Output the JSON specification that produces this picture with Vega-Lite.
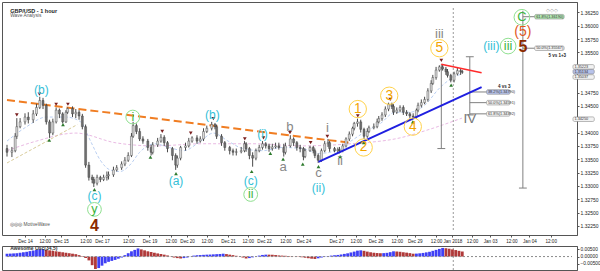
{
"$schema":"https://vega.github.io/schema/vega-lite/v6.json",
"background":"white",
"padding":{"left":1,"top":1,"right":0,"bottom":0},
"config":{"font":"Liberation Sans","view":{"stroke":"#555","strokeWidth":1},"axis":{"labelFont":"Liberation Sans","labelFontSize":5,"labelColor":"#222","tickColor":"#555","domainColor":"#555","grid":false,"tickSize":2,"labelPadding":1}},
"spacing":1,
"datasets":{
"candles":[
{"t":0,"o":1.3370,"h":1.3377,"l":1.3355,"c":1.3363},
{"t":3,"o":1.3363,"h":1.3373,"l":1.3354,"c":1.3366},
{"t":5,"o":1.3366,"h":1.3399,"l":1.3363,"c":1.3393},
{"t":6,"o":1.3393,"h":1.3427,"l":1.3388,"c":1.3411},
{"t":8,"o":1.3411,"h":1.3427,"l":1.3408,"c":1.3420},
{"t":11,"o":1.3420,"h":1.3436,"l":1.3415,"c":1.3429},
{"t":13,"o":1.3429,"h":1.3438,"l":1.3417,"c":1.3424},
{"t":16,"o":1.3424,"h":1.3442,"l":1.3418,"c":1.3435},
{"t":18,"o":1.3435,"h":1.3454,"l":1.3431,"c":1.3447},
{"t":20,"o":1.3447,"h":1.3467,"l":1.3444,"c":1.3460},
{"t":22,"o":1.3460,"h":1.3465,"l":1.3444,"c":1.3451},
{"t":24,"o":1.3451,"h":1.3454,"l":1.3415,"c":1.3420},
{"t":26,"o":1.3420,"h":1.3424,"l":1.3390,"c":1.3399},
{"t":28,"o":1.3399,"h":1.3426,"l":1.3395,"c":1.3420},
{"t":30,"o":1.3420,"h":1.3447,"l":1.3417,"c":1.3442},
{"t":32,"o":1.3442,"h":1.3445,"l":1.3427,"c":1.3435},
{"t":34,"o":1.3435,"h":1.3438,"l":1.3417,"c":1.3420},
{"t":36,"o":1.3420,"h":1.3442,"l":1.3418,"c":1.3438},
{"t":37,"o":1.3438,"h":1.3447,"l":1.3435,"c":1.3445},
{"t":40,"o":1.3445,"h":1.3449,"l":1.3429,"c":1.3435},
{"t":42,"o":1.3435,"h":1.3444,"l":1.3427,"c":1.3438},
{"t":44,"o":1.3438,"h":1.3442,"l":1.3424,"c":1.3431},
{"t":46,"o":1.3431,"h":1.3435,"l":1.3406,"c":1.3411},
{"t":48,"o":1.3411,"h":1.3415,"l":1.3334,"c":1.3339},
{"t":50,"o":1.3339,"h":1.3345,"l":1.3310,"c":1.3316},
{"t":52,"o":1.3316,"h":1.3321,"l":1.3305,"c":1.3312},
{"t":53,"o":1.3312,"h":1.3317,"l":1.3298,"c":1.3305},
{"t":55,"o":1.3305,"h":1.3321,"l":1.3301,"c":1.3316},
{"t":57,"o":1.3316,"h":1.3319,"l":1.3307,"c":1.3312},
{"t":59,"o":1.3312,"h":1.3321,"l":1.3309,"c":1.3316},
{"t":61,"o":1.3316,"h":1.3327,"l":1.3310,"c":1.3319},
{"t":62,"o":1.3319,"h":1.3327,"l":1.3312,"c":1.3321},
{"t":65,"o":1.3321,"h":1.3336,"l":1.3317,"c":1.3330},
{"t":67,"o":1.3330,"h":1.3339,"l":1.3327,"c":1.3334},
{"t":70,"o":1.3334,"h":1.3346,"l":1.3330,"c":1.3341},
{"t":72,"o":1.3341,"h":1.3354,"l":1.3337,"c":1.3348},
{"t":74,"o":1.3348,"h":1.3363,"l":1.3345,"c":1.3357},
{"t":76,"o":1.3357,"h":1.3399,"l":1.3354,"c":1.3393},
{"t":77,"o":1.3393,"h":1.3420,"l":1.3390,"c":1.3413},
{"t":79,"o":1.3413,"h":1.3417,"l":1.3397,"c":1.3402},
{"t":81,"o":1.3402,"h":1.3408,"l":1.3384,"c":1.3388},
{"t":83,"o":1.3388,"h":1.3393,"l":1.3379,"c":1.3384},
{"t":86,"o":1.3384,"h":1.3388,"l":1.3366,"c":1.3372},
{"t":88,"o":1.3372,"h":1.3377,"l":1.3357,"c":1.3363},
{"t":89,"o":1.3363,"h":1.3382,"l":1.3359,"c":1.3377},
{"t":92,"o":1.3377,"h":1.3390,"l":1.3373,"c":1.3384},
{"t":94,"o":1.3384,"h":1.3397,"l":1.3381,"c":1.3391},
{"t":96,"o":1.3391,"h":1.3395,"l":1.3375,"c":1.3381},
{"t":98,"o":1.3381,"h":1.3384,"l":1.3363,"c":1.3370},
{"t":101,"o":1.3370,"h":1.3373,"l":1.3348,"c":1.3357},
{"t":103,"o":1.3357,"h":1.3361,"l":1.3330,"c":1.3339},
{"t":104,"o":1.3339,"h":1.3357,"l":1.3334,"c":1.3352},
{"t":106,"o":1.3352,"h":1.3375,"l":1.3348,"c":1.3372},
{"t":109,"o":1.3372,"h":1.3381,"l":1.3366,"c":1.3375},
{"t":111,"o":1.3375,"h":1.3390,"l":1.3372,"c":1.3384},
{"t":113,"o":1.3384,"h":1.3393,"l":1.3381,"c":1.3390},
{"t":116,"o":1.3390,"h":1.3395,"l":1.3379,"c":1.3384},
{"t":118,"o":1.3384,"h":1.3393,"l":1.3381,"c":1.3388},
{"t":120,"o":1.3388,"h":1.3408,"l":1.3384,"c":1.3402},
{"t":122,"o":1.3402,"h":1.3413,"l":1.3399,"c":1.3408},
{"t":125,"o":1.3408,"h":1.3420,"l":1.3404,"c":1.3415},
{"t":127,"o":1.3415,"h":1.3418,"l":1.3406,"c":1.3411},
{"t":128,"o":1.3411,"h":1.3415,"l":1.3388,"c":1.3393},
{"t":131,"o":1.3393,"h":1.3397,"l":1.3375,"c":1.3381},
{"t":133,"o":1.3381,"h":1.3384,"l":1.3366,"c":1.3372},
{"t":136,"o":1.3372,"h":1.3375,"l":1.3359,"c":1.3366},
{"t":138,"o":1.3366,"h":1.3370,"l":1.3357,"c":1.3363},
{"t":140,"o":1.3363,"h":1.3370,"l":1.3357,"c":1.3364},
{"t":143,"o":1.3364,"h":1.3373,"l":1.3361,"c":1.3366},
{"t":145,"o":1.3366,"h":1.3384,"l":1.3363,"c":1.3379},
{"t":146,"o":1.3379,"h":1.3382,"l":1.3364,"c":1.3370},
{"t":148,"o":1.3370,"h":1.3373,"l":1.3350,"c":1.3357},
{"t":150,"o":1.3357,"h":1.3363,"l":1.3336,"c":1.3352},
{"t":152,"o":1.3352,"h":1.3370,"l":1.3348,"c":1.3366},
{"t":154,"o":1.3366,"h":1.3377,"l":1.3363,"c":1.3372},
{"t":156,"o":1.3372,"h":1.3384,"l":1.3368,"c":1.3379},
{"t":158,"o":1.3379,"h":1.3382,"l":1.3370,"c":1.3375},
{"t":160,"o":1.3375,"h":1.3379,"l":1.3364,"c":1.3370},
{"t":162,"o":1.3370,"h":1.3379,"l":1.3366,"c":1.3373},
{"t":164,"o":1.3373,"h":1.3381,"l":1.3370,"c":1.3375},
{"t":166,"o":1.3375,"h":1.3381,"l":1.3368,"c":1.3372},
{"t":169,"o":1.3372,"h":1.3379,"l":1.3355,"c":1.3363},
{"t":170,"o":1.3363,"h":1.3381,"l":1.3359,"c":1.3375},
{"t":173,"o":1.3375,"h":1.3395,"l":1.3372,"c":1.3388},
{"t":175,"o":1.3388,"h":1.3391,"l":1.3375,"c":1.3381},
{"t":177,"o":1.3381,"h":1.3384,"l":1.3366,"c":1.3372},
{"t":179,"o":1.3372,"h":1.3377,"l":1.3363,"c":1.3370},
{"t":181,"o":1.3370,"h":1.3373,"l":1.3348,"c":1.3355},
{"t":182,"o":1.3355,"h":1.3370,"l":1.3352,"c":1.3366},
{"t":185,"o":1.3366,"h":1.3375,"l":1.3364,"c":1.3372},
{"t":187,"o":1.3372,"h":1.3375,"l":1.3361,"c":1.3366},
{"t":188,"o":1.3366,"h":1.3370,"l":1.3352,"c":1.3357},
{"t":190,"o":1.3357,"h":1.3361,"l":1.3343,"c":1.3348},
{"t":192,"o":1.3348,"h":1.3370,"l":1.3345,"c":1.3366},
{"t":194,"o":1.3366,"h":1.3384,"l":1.3363,"c":1.3379},
{"t":196,"o":1.3379,"h":1.3388,"l":1.3373,"c":1.3381},
{"t":197,"o":1.3381,"h":1.3384,"l":1.3364,"c":1.3370},
{"t":200,"o":1.3370,"h":1.3373,"l":1.3363,"c":1.3366},
{"t":202,"o":1.3366,"h":1.3372,"l":1.3361,"c":1.3368},
{"t":203,"o":1.3368,"h":1.3373,"l":1.3361,"c":1.3366},
{"t":205,"o":1.3366,"h":1.3379,"l":1.3363,"c":1.3375},
{"t":207,"o":1.3375,"h":1.3391,"l":1.3372,"c":1.3388},
{"t":209,"o":1.3388,"h":1.3402,"l":1.3384,"c":1.3397},
{"t":211,"o":1.3397,"h":1.3411,"l":1.3393,"c":1.3408},
{"t":212,"o":1.3408,"h":1.3420,"l":1.3404,"c":1.3417},
{"t":214,"o":1.3417,"h":1.3426,"l":1.3411,"c":1.3420},
{"t":216,"o":1.3420,"h":1.3424,"l":1.3400,"c":1.3406},
{"t":218,"o":1.3406,"h":1.3409,"l":1.3388,"c":1.3393},
{"t":220,"o":1.3393,"h":1.3408,"l":1.3390,"c":1.3402},
{"t":221,"o":1.3402,"h":1.3413,"l":1.3399,"c":1.3409},
{"t":224,"o":1.3409,"h":1.3417,"l":1.3406,"c":1.3411},
{"t":226,"o":1.3411,"h":1.3426,"l":1.3408,"c":1.3420},
{"t":227,"o":1.3420,"h":1.3431,"l":1.3417,"c":1.3426},
{"t":229,"o":1.3426,"h":1.3438,"l":1.3422,"c":1.3433},
{"t":231,"o":1.3433,"h":1.3449,"l":1.3429,"c":1.3444},
{"t":233,"o":1.3444,"h":1.3456,"l":1.3440,"c":1.3453},
{"t":235,"o":1.3453,"h":1.3456,"l":1.3444,"c":1.3449},
{"t":236,"o":1.3449,"h":1.3453,"l":1.3433,"c":1.3438},
{"t":238,"o":1.3438,"h":1.3447,"l":1.3435,"c":1.3442},
{"t":240,"o":1.3442,"h":1.3451,"l":1.3438,"c":1.3447},
{"t":242,"o":1.3447,"h":1.3451,"l":1.3433,"c":1.3438},
{"t":244,"o":1.3438,"h":1.3442,"l":1.3431,"c":1.3435},
{"t":246,"o":1.3435,"h":1.3438,"l":1.3427,"c":1.3431},
{"t":248,"o":1.3431,"h":1.3436,"l":1.3426,"c":1.3429},
{"t":250,"o":1.3429,"h":1.3445,"l":1.3426,"c":1.3442},
{"t":251,"o":1.3442,"h":1.3456,"l":1.3438,"c":1.3451},
{"t":253,"o":1.3451,"h":1.3462,"l":1.3447,"c":1.3456},
{"t":255,"o":1.3456,"h":1.3467,"l":1.3453,"c":1.3462},
{"t":257,"o":1.3462,"h":1.3483,"l":1.3458,"c":1.3478},
{"t":259,"o":1.3478,"h":1.3498,"l":1.3474,"c":1.3492},
{"t":260,"o":1.3492,"h":1.3508,"l":1.3489,"c":1.3503},
{"t":262,"o":1.3503,"h":1.3523,"l":1.3499,"c":1.3517},
{"t":264,"o":1.3517,"h":1.3526,"l":1.3514,"c":1.3523},
{"t":266,"o":1.3523,"h":1.3528,"l":1.3516,"c":1.3519},
{"t":268,"o":1.3519,"h":1.3523,"l":1.3508,"c":1.3514},
{"t":269,"o":1.3514,"h":1.3519,"l":1.3503,"c":1.3507},
{"t":271,"o":1.3507,"h":1.3510,"l":1.3494,"c":1.3498},
{"t":273,"o":1.3498,"h":1.3514,"l":1.3494,"c":1.3510},
{"t":275,"o":1.3510,"h":1.3521,"l":1.3507,"c":1.3516},
{"t":277,"o":1.3516,"h":1.3519,"l":1.3508,"c":1.3514},
{"t":278,"o":1.3514,"h":1.3517,"l":1.3510,"c":1.3513}
],
"ma":[
{"g":"fast","t":0,"p":1.3384},{"g":"fast","t":12,"p":1.3411},{"g":"fast","t":24,"p":1.3429},{"g":"fast","t":36,"p":1.3429},{"g":"fast","t":45,"p":1.3420},{"g":"fast","t":51,"p":1.3384},{"g":"fast","t":57,"p":1.3348},{"g":"fast","t":63,"p":1.3330},{"g":"fast","t":69,"p":1.3327},{"g":"fast","t":75,"p":1.3339},{"g":"fast","t":81,"p":1.3363},{"g":"fast","t":90,"p":1.3379},{"g":"fast","t":99,"p":1.3372},{"g":"fast","t":108,"p":1.3366},{"g":"fast","t":117,"p":1.3381},{"g":"fast","t":126,"p":1.3399},{"g":"fast","t":135,"p":1.3384},{"g":"fast","t":144,"p":1.3370},{"g":"fast","t":156,"p":1.3366},{"g":"fast","t":168,"p":1.3372},{"g":"fast","t":180,"p":1.3370},{"g":"fast","t":190.8,"p":1.3361},{"g":"fast","t":201,"p":1.3366},{"g":"fast","t":210,"p":1.3384},{"g":"fast","t":219,"p":1.3402},{"g":"fast","t":228,"p":1.3417},{"g":"fast","t":237,"p":1.3438},{"g":"fast","t":246,"p":1.3438},{"g":"fast","t":255,"p":1.3451},{"g":"fast","t":264,"p":1.3483},{"g":"fast","t":271.2,"p":1.3501},{"g":"fast","t":277.8,"p":1.3510},
{"g":"slow","t":0,"p":1.3366},{"g":"slow","t":18,"p":1.3384},{"g":"slow","t":42,"p":1.3399},{"g":"slow","t":66,"p":1.3381},{"g":"slow","t":90,"p":1.3375},{"g":"slow","t":120,"p":1.3379},{"g":"slow","t":150,"p":1.3379},{"g":"slow","t":180,"p":1.3375},{"g":"slow","t":210,"p":1.3379},{"g":"slow","t":240,"p":1.3390},{"g":"slow","t":258,"p":1.3406},{"g":"slow","t":277.8,"p":1.3427}
],
"segs":[
{"k":"orange","t":0,"p":1.3461,"t2":208.8,"p2":1.3381},
{"k":"yellow","t":0,"p":1.3343,"t2":43,"p2":1.3415},
{"k":"blue","t":190.2,"p":1.3345,"t2":289.8,"p2":1.3485},
{"k":"red","t":265.2,"p":1.3528,"t2":289.8,"p2":1.3512},
{"k":"gray","t":265.2,"p":1.3528,"t2":265.2,"p2":1.3370},
{"k":"gray","t":262.8,"p":1.3370,"t2":267.6,"p2":1.3370},
{"k":"gray","t":282.6,"p":1.3542,"t2":282.6,"p2":1.3433},
{"k":"gray","t":280.2,"p":1.3542,"t2":285,"p2":1.3542},
{"k":"gray","t":280.2,"p":1.3433,"t2":285,"p2":1.3433},
{"k":"gray","t":282.6,"p":1.3476,"t2":292.8,"p2":1.3476},
{"k":"gray","t":282.6,"p":1.3456,"t2":292.8,"p2":1.3456},
{"k":"gray","t":282.6,"p":1.3435,"t2":292.8,"p2":1.3435},
{"k":"gray","t":315,"p":1.3628,"t2":315,"p2":1.3296},
{"k":"gray","t":312.6,"p":1.3296,"t2":317.4,"p2":1.3296},
{"k":"gray","t":315,"p":1.3617,"t2":322.2,"p2":1.3617},
{"k":"gray","t":315,"p":1.3558,"t2":322.2,"p2":1.3558}
],
"boxes":[
{"k":"b","t":292.8,"t2":307.2,"p":1.3476,"s":"38.2%(1.34790)"},
{"k":"w","t":292.8,"t2":307.2,"p":1.3456,"s":"50.0%(1.34591)"},
{"k":"w","t":292.8,"t2":307.2,"p":1.3435,"s":"61.8%(1.34392)"},
{"k":"g","t":322.2,"t2":340.2,"p":1.3617,"s":"61.8%(1.36190)"},
{"k":"w","t":322.2,"t2":340.2,"p":1.3558,"s":"50.0%(1.35567)"},
{"k":"w","t":345.6,"t2":358.6,"p":1.3523,"s":"1.35223"},
{"k":"b","t":345.6,"t2":358.6,"p":1.3514,"s":"1.35134"},
{"k":"w","t":345.6,"t2":358.6,"p":1.3504,"s":"1.35037"},
{"k":"w","t":345.6,"t2":358.6,"p":1.3425,"s":"1.34250"}
],
"pts":[
{"k":"hi","t":6,"p":1.3433},{"k":"hi","t":19.8,"p":1.3472},{"k":"hi","t":30,"p":1.3453},{"k":"hi","t":37.2,"p":1.3453},{"k":"hi","t":94.8,"p":1.3402},{"k":"hi","t":112.2,"p":1.3399},{"k":"hi","t":126,"p":1.3426},{"k":"hi","t":145.2,"p":1.3388},{"k":"hi","t":156.6,"p":1.3390},{"k":"hi","t":172.8,"p":1.3400},{"k":"hi","t":185.4,"p":1.3381},{"k":"hi","t":195.6,"p":1.3393},{"k":"hi","t":214.2,"p":1.3431},{"k":"hi","t":234,"p":1.3462},{"k":"hi","t":265.2,"p":1.3535},
{"k":"lo","t":25.8,"p":1.3386},{"k":"lo","t":34.2,"p":1.3415},{"k":"lo","t":53.4,"p":1.3293},{"k":"lo","t":87.6,"p":1.3354},{"k":"lo","t":103.2,"p":1.3323},{"k":"lo","t":149.4,"p":1.3327},{"k":"lo","t":160.8,"p":1.3361},{"k":"lo","t":168.6,"p":1.3350},{"k":"lo","t":180.6,"p":1.3341},{"k":"lo","t":190.2,"p":1.3336},{"k":"lo","t":203.4,"p":1.3355},{"k":"lo","t":217.8,"p":1.3381},{"k":"lo","t":247.8,"p":1.3420},{"k":"lo","t":271.2,"p":1.3489}
],
"circ":[
{"k":"g","t":53.4,"p":1.3256},{"k":"g","t":76.8,"p":1.3429},{"k":"g","t":148.8,"p":1.3284},{"k":"gL","t":306,"p":1.3562},{"k":"gL","t":314.4,"p":1.3616},
{"k":"o","t":214.2,"p":1.3444},{"k":"o","t":217.8,"p":1.3372},{"k":"o","t":233.4,"p":1.3469},{"k":"o","t":247.8,"p":1.3411},{"k":"o","t":264,"p":1.3558}
],
"labs":[
{"k":"cyan","t":21,"p":1.3480,"s":"(b)"},
{"k":"cyan","t":53.4,"p":1.3282,"s":"(c)"},
{"k":"green","t":53.4,"p":1.3256,"s":"y"},
{"k":"green","t":76.8,"p":1.3429,"s":"i"},
{"k":"cyan","t":103.2,"p":1.3310,"s":"(a)"},
{"k":"cyan","t":125.4,"p":1.3433,"s":"(b)"},
{"k":"cyan","t":148.8,"p":1.3310,"s":"(c)"},
{"k":"green","t":148.8,"p":1.3284,"s":"ii"},
{"k":"cyan","t":156,"p":1.3397,"s":"(i)"},
{"k":"gray","t":168.6,"p":1.3336,"s":"a"},
{"k":"gray","t":172.8,"p":1.3411,"s":"b"},
{"k":"gray","t":190.2,"p":1.3325,"s":"c"},
{"k":"cyan","t":190.2,"p":1.3296,"s":"(ii)"},
{"k":"gray","t":195.6,"p":1.3408,"s":"i"},
{"k":"gray","t":203.4,"p":1.3346,"s":"ii"},
{"k":"orange","t":214.2,"p":1.3444,"s":"1"},
{"k":"orange","t":217.8,"p":1.3372,"s":"2"},
{"k":"orange","t":233.4,"p":1.3469,"s":"3"},
{"k":"orange","t":247.8,"p":1.3411,"s":"4"},
{"k":"orange","t":264,"p":1.3558,"s":"5"},
{"k":"gray","t":264,"p":1.3585,"s":"iii"},
{"k":"cyanL","t":295.8,"p":1.3562,"s":"(iii)"},
{"k":"greenL","t":306,"p":1.3562,"s":"iii"},
{"k":"greenL","t":314.4,"p":1.3616,"s":"C"},
{"k":"ored","t":315,"p":1.3588,"s":"(5)"},
{"k":"grayS","t":282.6,"p":1.3426,"s":"IV"}
],
"big":[
{"t":53.4,"p":1.3225,"s":"4"},
{"t":315,"p":1.3560,"s":"5"}
],
"notes":[
{"k":"title","t":2,"p":1.3628,"s":"GBP/USD - 1 hour"},
{"k":"sub","t":2,"p":1.3618,"s":"Wave Analysis"},
{"k":"sub","t":2,"p":1.3226,"s":"◎◎◎  MotiveWave"},
{"k":"icons","t":333,"p":1.3630,"s":"◇◇◇"},
{"k":"bold","t":303.6,"p":1.3486,"s":"4 vs 3"},
{"k":"bold","t":336,"p":1.3544,"s":"5 vs 1+3"}
],
"ao":[
{"t":0,"v":0.00201,"d":"u"},{"t":2,"v":0.00208,"d":"u"},{"t":4,"v":0.00221,"d":"u"},{"t":6,"v":0.00235,"d":"u"},{"t":8,"v":0.00268,"d":"u"},{"t":10,"v":0.00302,"d":"u"},{"t":12,"v":0.00335,"d":"u"},{"t":14,"v":0.00382,"d":"u"},{"t":16,"v":0.00422,"d":"u"},{"t":18,"v":0.00469,"d":"u"},{"t":20,"v":0.00516,"d":"u"},{"t":22,"v":0.00523,"d":"u"},{"t":24,"v":0.00469,"d":"d"},{"t":26,"v":0.00436,"d":"d"},{"t":28,"v":0.00402,"d":"d"},{"t":30,"v":0.00369,"d":"d"},{"t":32,"v":0.00335,"d":"d"},{"t":34,"v":0.00302,"d":"d"},{"t":36,"v":0.00268,"d":"d"},{"t":38,"v":0.00235,"d":"d"},{"t":40,"v":0.00201,"d":"d"},{"t":42,"v":0.00168,"d":"d"},{"t":44,"v":0.00101,"d":"d"},{"t":46,"v":0.00034,"d":"d"},{"t":48,"v":-0.00101,"d":"d"},{"t":50,"v":-0.00268,"d":"d"},{"t":52,"v":-0.00603,"d":"d"},{"t":54,"v":-0.00871,"d":"d"},{"t":56,"v":-0.00804,"d":"u"},{"t":58,"v":-0.00637,"d":"u"},{"t":60,"v":-0.00469,"d":"u"},{"t":62,"v":-0.00369,"d":"u"},{"t":64,"v":-0.00302,"d":"u"},{"t":66,"v":-0.00235,"d":"u"},{"t":68,"v":-0.00147,"d":"u"},{"t":70,"v":-0.00067,"d":"u"},{"t":72,"v":0.00101,"d":"u"},{"t":74,"v":0.00235,"d":"u"},{"t":76,"v":0.00369,"d":"u"},{"t":78,"v":0.00469,"d":"u"},{"t":80,"v":0.0057,"d":"u"},{"t":82,"v":0.00503,"d":"d"},{"t":84,"v":0.00436,"d":"d"},{"t":86,"v":0.00369,"d":"d"},{"t":88,"v":0.00322,"d":"d"},{"t":90,"v":0.00268,"d":"d"},{"t":92,"v":0.00221,"d":"d"},{"t":94,"v":0.00181,"d":"d"},{"t":96,"v":0.00134,"d":"d"},{"t":98,"v":0.0008,"d":"d"},{"t":100,"v":0.0002,"d":"d"},{"t":102,"v":-0.00067,"d":"d"},{"t":104,"v":-0.00107,"d":"d"},{"t":106,"v":-0.00134,"d":"d"},{"t":108,"v":-0.00107,"d":"u"},{"t":110,"v":-0.00067,"d":"u"},{"t":112,"v":0.00013,"d":"u"},{"t":114,"v":0.00067,"d":"u"},{"t":116,"v":0.00094,"d":"u"},{"t":118,"v":0.00107,"d":"u"},{"t":120,"v":0.00121,"d":"u"},{"t":122,"v":0.00134,"d":"u"},{"t":124,"v":0.00141,"d":"u"},{"t":126,"v":0.00154,"d":"u"},{"t":128,"v":0.00168,"d":"u"},{"t":130,"v":0.00181,"d":"u"},{"t":132,"v":0.00201,"d":"u"},{"t":134,"v":0.00174,"d":"d"},{"t":136,"v":0.00134,"d":"d"},{"t":138,"v":0.00101,"d":"d"},{"t":140,"v":0.00054,"d":"d"},{"t":142,"v":0.00007,"d":"d"},{"t":144,"v":-0.00067,"d":"d"},{"t":146,"v":-0.00134,"d":"d"},{"t":148,"v":-0.00107,"d":"u"},{"t":150,"v":-0.00054,"d":"u"},{"t":152,"v":0.00013,"d":"u"},{"t":154,"v":0.00067,"d":"u"},{"t":156,"v":0.00114,"d":"u"},{"t":158,"v":0.00134,"d":"u"},{"t":160,"v":0.00134,"d":"d"},{"t":162,"v":0.00127,"d":"d"},{"t":164,"v":0.00107,"d":"d"},{"t":166,"v":0.0008,"d":"d"},{"t":168,"v":0.00067,"d":"d"},{"t":170,"v":0.00054,"d":"d"},{"t":172,"v":0.0004,"d":"d"},{"t":174,"v":0.00027,"d":"d"},{"t":176,"v":0.00007,"d":"d"},{"t":178,"v":-0.0002,"d":"d"},{"t":180,"v":-0.00047,"d":"d"},{"t":182,"v":-0.0008,"d":"d"},{"t":184,"v":-0.00114,"d":"d"},{"t":186,"v":-0.00147,"d":"d"},{"t":188,"v":-0.00168,"d":"d"},{"t":190,"v":-0.00121,"d":"u"},{"t":192,"v":-0.00067,"d":"u"},{"t":194,"v":-0.0002,"d":"u"},{"t":196,"v":0.00034,"d":"u"},{"t":198,"v":0.00067,"d":"u"},{"t":200,"v":0.00094,"d":"u"},{"t":202,"v":0.00114,"d":"u"},{"t":204,"v":0.00147,"d":"u"},{"t":206,"v":0.00188,"d":"u"},{"t":208,"v":0.00228,"d":"u"},{"t":210,"v":0.00288,"d":"u"},{"t":212,"v":0.00348,"d":"u"},{"t":214,"v":0.00415,"d":"u"},{"t":216,"v":0.00436,"d":"u"},{"t":218,"v":0.00402,"d":"d"},{"t":220,"v":0.00348,"d":"d"},{"t":222,"v":0.00302,"d":"d"},{"t":224,"v":0.00268,"d":"d"},{"t":226,"v":0.00248,"d":"d"},{"t":228,"v":0.00235,"d":"d"},{"t":230,"v":0.00241,"d":"u"},{"t":232,"v":0.00261,"d":"u"},{"t":234,"v":0.00308,"d":"u"},{"t":236,"v":0.00369,"d":"u"},{"t":238,"v":0.00355,"d":"d"},{"t":240,"v":0.00335,"d":"d"},{"t":242,"v":0.00302,"d":"d"},{"t":244,"v":0.00275,"d":"d"},{"t":246,"v":0.00241,"d":"d"},{"t":248,"v":0.00201,"d":"d"},{"t":250,"v":0.00208,"d":"u"},{"t":252,"v":0.00228,"d":"u"},{"t":254,"v":0.00255,"d":"u"},{"t":256,"v":0.00295,"d":"u"},{"t":258,"v":0.00335,"d":"u"},{"t":260,"v":0.00402,"d":"u"},{"t":262,"v":0.00469,"d":"u"},{"t":264,"v":0.00536,"d":"u"},{"t":266,"v":0.00603,"d":"u"},{"t":268,"v":0.00583,"d":"d"},{"t":270,"v":0.00549,"d":"d"},{"t":272,"v":0.00503,"d":"d"},{"t":274,"v":0.00456,"d":"d"},{"t":276,"v":0.00402,"d":"d"},{"t":278,"v":0.00355,"d":"d"}
]
},
"vconcat":[
{
"width":575,"height":233,
"resolve":{"scale":{"color":"independent","size":"independent","shape":"independent"}},
"encoding":{
 "x":{"field":"t","type":"quantitative","title":null,"scale":{"domain":[0,345],"nice":false,"zero":false},
   "axis":{"orient":"bottom","title":null,"domain":false,"tickSize":2,"labelFontSize":4.6,"labelPadding":1,"labelOverlap":false,"labelFlush":false,
    "values":[11,23,33,48,58,74,87,100,110,122,135,147,157,170,181,201,213,225,238,249,262,272,284,295,308,319,332],
    "labelExpr":"['Dec 14','12:00','Dec 15','12:00','Dec 17','12:00','Dec 19','12:00','Dec 20','12:00','Dec 21','12:00','Dec 22','12:00','Dec 24','Dec 27','12:00','Dec 28','12:00','Dec 29','12:00','Jan 2018','12:00','Jan 03','12:00','Jan 04','12:00'][indexof([11,23,33,48,58,74,87,100,110,122,135,147,157,170,181,201,213,225,238,249,262,272,284,295,308,319,332], datum.value)]"}},
 "y":{"field":"p","type":"quantitative","title":null,"scale":{"domain":[1.32174,1.36352],"nice":false,"zero":false},
   "axis":{"orient":"right","title":null,"format":".5f","labelFontSize":5,"tickSize":2,"labelPadding":1,"labelOverlap":false,"labelFlush":false,
    "values":[1.3225,1.325,1.3275,1.33,1.3325,1.335,1.3375,1.34,1.345,1.3475,1.355,1.3575,1.36,1.3625]}}
},
"layer":[
{"data":{"values":[{"t":272.5,"p":1.32174,"p2":1.36352}]},"mark":{"type":"rule","color":"#9a9a9a","strokeDash":[2,2],"strokeWidth":1},"encoding":{"y2":{"field":"p2"}}},
{"data":{"name":"ma"},"mark":{"type":"line","strokeWidth":1,"strokeDash":[3,2],"opacity":0.8,"interpolate":"monotone"},
 "encoding":{"detail":{"field":"g"},
  "color":{"field":"g","type":"nominal","scale":{"domain":["fast","slow"],"range":["#a9c3ee","#e3a9dc"]},"legend":null}}},
{"data":{"name":"segs"},"transform":[{"filter":"datum.k=='yellow'"}],"mark":{"type":"rule","color":"#d9cc9a","strokeWidth":1,"strokeDash":[3,2]},
 "encoding":{"x2":{"field":"t2"},"y2":{"field":"p2"}}},
{"data":{"name":"segs"},"transform":[{"filter":"datum.k=='orange'"}],"mark":{"type":"rule","color":"#f07d22","strokeWidth":2,"strokeDash":[8,4]},
 "encoding":{"x2":{"field":"t2"},"y2":{"field":"p2"}}},
{"data":{"name":"segs"},"transform":[{"filter":"datum.k=='gray'"}],"mark":{"type":"rule","color":"#808080","strokeWidth":1},
 "encoding":{"x2":{"field":"t2"},"y2":{"field":"p2"}}},
{"data":{"name":"candles"},"mark":{"type":"rule","color":"#4a4a4a","strokeWidth":1},
 "encoding":{
  "y":{"field":"l","type":"quantitative","title":null,"scale":{"domain":[1.32174,1.36352],"nice":false,"zero":false},
   "axis":{"orient":"right","title":null,"format":".5f","labelFontSize":5,"tickSize":2,"labelPadding":1,"labelOverlap":false,"labelFlush":false,
    "values":[1.3225,1.325,1.3275,1.33,1.3325,1.335,1.3375,1.34,1.345,1.3475,1.355,1.3575,1.36,1.3625]}},
  "y2":{"field":"h"}}},
{"data":{"name":"candles"},"mark":{"type":"bar","size":2,"stroke":"#3a3a3a","strokeWidth":0.4},
 "encoding":{
  "y":{"field":"o","type":"quantitative","title":null,"scale":{"domain":[1.32174,1.36352],"nice":false,"zero":false},
   "axis":{"orient":"right","title":null,"format":".5f","labelFontSize":5,"tickSize":2,"labelPadding":1,"labelOverlap":false,"labelFlush":false,
    "values":[1.3225,1.325,1.3275,1.33,1.3325,1.335,1.3375,1.34,1.345,1.3475,1.355,1.3575,1.36,1.3625]}},
  "y2":{"field":"c"},
  "color":{"condition":{"test":"datum.c >= datum.o","value":"#dadada"},"value":"#707070"}}},
{"data":{"name":"segs"},"transform":[{"filter":"datum.k=='blue'"}],"mark":{"type":"rule","color":"#1f1fe0","strokeWidth":2},
 "encoding":{"x2":{"field":"t2"},"y2":{"field":"p2"}}},
{"data":{"name":"segs"},"transform":[{"filter":"datum.k=='red'"}],"mark":{"type":"rule","color":"#ff2a2a","strokeWidth":1.5},
 "encoding":{"x2":{"field":"t2"},"y2":{"field":"p2"}}},
{"data":{"name":"boxes"},"mark":{"type":"bar","size":4.6,"stroke":"#777","strokeWidth":0.5,"cornerRadius":1.5},
 "encoding":{"x2":{"field":"t2"},
  "color":{"field":"k","type":"nominal","scale":{"domain":["b","w","g"],"range":["#b7c2ea","#f2f2f2","#b3e8b3"]},"legend":null}}},
{"data":{"name":"boxes"},"mark":{"type":"text","align":"left","baseline":"middle","dx":1.5,"fontSize":3.8,"color":"#333"},
 "encoding":{"text":{"field":"s"}}},
{"data":{"name":"pts"},"mark":{"type":"point","filled":true,"size":14,"opacity":1},
 "encoding":{
  "shape":{"field":"k","type":"nominal","scale":{"domain":["hi","lo"],"range":["triangle-down","triangle-up"]},"legend":null},
  "color":{"field":"k","type":"nominal","scale":{"domain":["hi","lo"],"range":["#7a1f1f","#2d7a2d"]},"legend":null}}},
{"data":{"name":"circ"},"mark":{"type":"point","filled":false,"shape":"circle","strokeWidth":1,"opacity":1},
 "encoding":{
  "size":{"field":"k","type":"ordinal","scale":{"domain":["g","gL","o"],"range":[190,300,165]},"legend":null},
  "color":{"field":"k","type":"nominal","scale":{"domain":["g","gL","o"],"range":["#8fe08f","#8fe08f","#ffd24a"]},"legend":null}}},
{"data":{"name":"labs"},"mark":{"type":"text","align":"center","baseline":"middle"},
 "encoding":{"text":{"field":"s"},
  "size":{"field":"k","type":"ordinal","scale":{"domain":["cyan","cyanL","green","greenL","gray","grayS","orange","ored"],"range":[12,14,11,13,12,8,10,15]},"legend":null},
  "color":{"field":"k","type":"nominal","scale":{"domain":["cyan","cyanL","green","greenL","gray","grayS","orange","ored"],"range":["#34c0d8","#34c0d8","#3db53d","#3db53d","#888888","#777777","#f2a300","#e0581c"]},"legend":null}}},
{"data":{"name":"big"},"mark":{"type":"text","align":"center","baseline":"middle","fontSize":16,"fontWeight":"bold","color":"#8b2a00"},
 "encoding":{"text":{"field":"s"}}},
{"data":{"name":"notes"},"transform":[{"filter":"datum.k=='title'"}],"mark":{"type":"text","align":"left","baseline":"middle","fontSize":5.5,"fontWeight":"bold","color":"#222"},
 "encoding":{"text":{"field":"s"}}},
{"data":{"name":"notes"},"transform":[{"filter":"datum.k=='sub'"}],"mark":{"type":"text","align":"left","baseline":"middle","fontSize":4.8,"color":"#555"},
 "encoding":{"text":{"field":"s"}}},
{"data":{"name":"notes"},"transform":[{"filter":"datum.k=='icons'"}],"mark":{"type":"text","align":"center","baseline":"middle","fontSize":5,"color":"#999"},
 "encoding":{"text":{"field":"s"}}},
{"data":{"name":"notes"},"transform":[{"filter":"datum.k=='bold'"}],"mark":{"type":"text","align":"center","baseline":"middle","fontSize":4.5,"fontWeight":"bold","color":"#222"},
 "encoding":{"text":{"field":"s"}}}
]
},
{
"width":575,"height":24,
"encoding":{
 "x":{"field":"t","type":"quantitative","title":null,"scale":{"domain":[0,345],"nice":false,"zero":false},"axis":null},
 "y":{"field":"v","type":"quantitative","title":null,"scale":{"domain":[-0.0094,0.0074],"nice":false,"zero":false},
   "axis":{"orient":"right","title":null,"format":".5f","values":[-0.005,0,0.005],"labelFontSize":4.8,"tickSize":2,"labelPadding":1,"labelFlush":false,"labelOverlap":false}}
},
"layer":[
{"data":{"values":[{"t":272.5,"v":-0.0094,"v2":0.0074}]},"mark":{"type":"rule","color":"#9a9a9a","strokeDash":[2,2],"strokeWidth":1},"encoding":{"y2":{"field":"v2"}}},
{"data":{"name":"ao"},"mark":{"type":"bar","size":2.8},
 "encoding":{"y2":{"datum":0},
  "color":{"field":"d","type":"nominal","scale":{"domain":["u","d"],"range":["#3f3ff5","#b03a3a"]},"legend":null}}},
{"data":{"values":[{"t":0,"t2":345,"v":0}]},"mark":{"type":"rule","color":"#8a8a8a","strokeDash":[2,2],"strokeWidth":1},
 "encoding":{"x2":{"field":"t2"}}},
{"data":{"values":[{"t":2,"v":0.0061,"s":"Awesome Osc(34,5)"}]},"mark":{"type":"text","align":"left","baseline":"middle","fontSize":5,"fontWeight":"bold","color":"#333"},
 "encoding":{"text":{"field":"s"}}}
]
}
]
}
